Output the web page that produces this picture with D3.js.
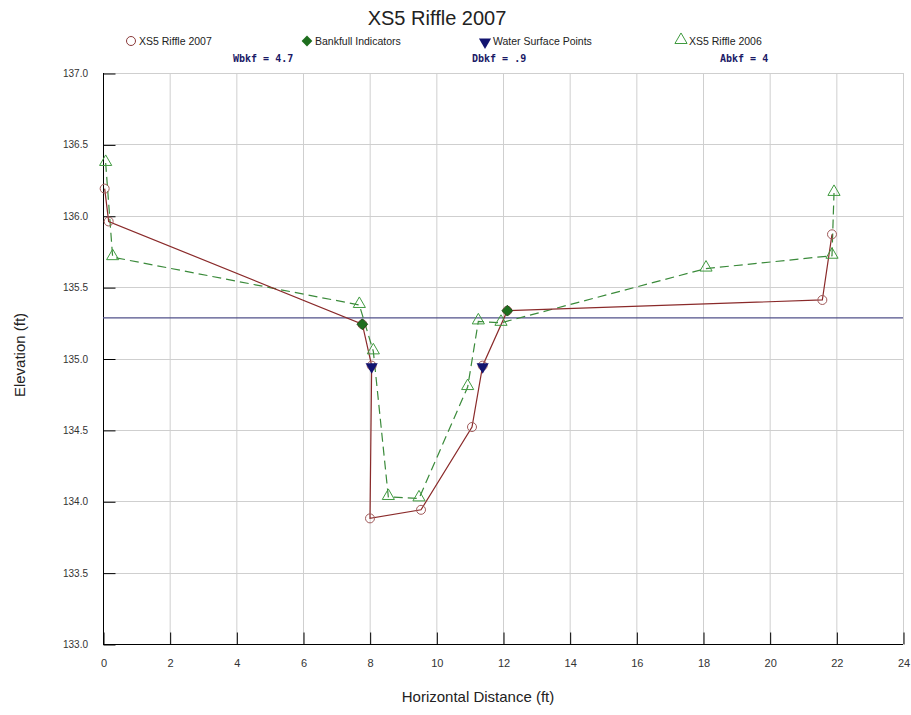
<!DOCTYPE html>
<html><head><meta charset="utf-8">
<script src="https://cdn.jsdelivr.net/npm/d3@7"></script>
<style>body{margin:0;background:#fff}svg{display:block}</style>
</head><body>
<script>
// ---- data ----
const dist2007 = [0.05, 0.17, 7.78, 8.06, 8.01, 9.54, 11.07, 11.39, 12.13, 21.58, 21.87];
const elev2007 = [136.19, 135.96, 135.24, 134.95, 133.88, 133.94, 134.52, 134.95, 135.335, 135.41, 135.87];
const dist2006 = [0.08, 0.29, 7.69, 8.11, 8.56, 9.48, 10.94, 11.26, 11.94, 18.09, 21.87, 21.93];
const elev2006 = [136.37, 135.71, 135.375, 135.05, 134.03, 134.02, 134.80, 135.26, 135.25, 135.63, 135.72, 136.16];
const bankfullDist = [7.78, 12.13];
const bankfullElev = [135.24, 135.335];
const wsDist = [8.06, 11.39];
const wsElev = [134.95, 134.95];
const bankfullLevel = 135.284;
const xTicks = [0, 2, 4, 6, 8, 10, 12, 14, 16, 18, 20, 22, 24];
const yTicks = [133.0, 133.5, 134.0, 134.5, 135.0, 135.5, 136.0, 136.5, 137.0];
const legendLabels = ["XS5 Riffle 2007", "Bankfull Indicators", "Water Surface Points", "XS5 Riffle 2006"];
const statLabels = ["Wbkf = 4.7", "Dbkf = .9", "Abkf = 4"];

const W = 911, H = 715;
const svg = d3.select("body").append("svg").attr("width", W).attr("height", H);
const x = d3.scaleLinear().domain([0, 24]).range([103, 903]);
const y = d3.scaleLinear().domain([133, 137]).range([644, 73]);

// grid
const grid = svg.append("g").attr("stroke", "#cfcfcf").attr("stroke-width", 1);
xTicks.forEach(t => grid.append("line").attr("x1", x(t) + 0.5).attr("x2", x(t) + 0.5).attr("y1", y(137)).attr("y2", y(133)));
yTicks.forEach(t => grid.append("line").attr("x1", x(0)).attr("x2", x(24)).attr("y1", Math.round(y(t)) + 0.5).attr("y2", Math.round(y(t)) + 0.5));

// axes
const yAxis = d3.axisRight(y).tickValues(yTicks).tickSize(12).tickFormat("");
const gy = svg.append("g").attr("transform", `translate(${x(0) + 0.5},0)`).call(yAxis);
gy.selectAll("line").attr("stroke", "#000").attr("transform", "translate(0,0.5)");
gy.select(".domain").attr("stroke", "#000").attr("d", `M0,${y(137)}V${y(133)}`);
const xAxis = d3.axisTop(x).tickValues(xTicks).tickSize(12).tickFormat("");
const gx = svg.append("g").attr("transform", `translate(0,${Math.round(y(133)) + 0.5})`).call(xAxis);
gx.selectAll("line").attr("stroke", "#000").attr("transform", "translate(0.5,0)");
gx.select(".domain").attr("stroke", "#000").attr("d", `M${x(0)},0H${x(24)}`);

// tick labels
svg.append("g").selectAll("text").data(yTicks).join("text")
  .attr("x", 88).attr("y", d => y(d) + 4).attr("text-anchor", "end")
  .attr("font-family", "Liberation Sans, Arial, sans-serif").attr("font-size", 10).attr("fill", "#333")
  .text(d => d.toFixed(1));
svg.append("g").selectAll("text").data(xTicks).join("text")
  .attr("x", d => x(d) + 1).attr("y", 667).attr("text-anchor", "middle")
  .attr("font-family", "Liberation Sans Narrow, Arial Narrow, sans-serif").attr("font-size", 11).attr("fill", "#333")
  .text(d => d);

// bankfull level line
svg.append("line").attr("x1", x(0)).attr("x2", x(24)).attr("y1", y(bankfullLevel)).attr("y2", y(bankfullLevel))
  .attr("stroke", "#50508a").attr("stroke-width", 1.2);

const pts2007 = dist2007.map((d, i) => [d, elev2007[i]]);
const pts2006 = dist2006.map((d, i) => [d, elev2006[i]]);
const line = d3.line().x(d => x(d[0])).y(d => y(d[1]));

svg.append("path").attr("d", line(pts2006)).attr("fill", "none").attr("stroke", "#3a8a3a")
  .attr("stroke-width", 1.2).attr("stroke-dasharray", "9,5");
svg.append("path").attr("d", line(pts2007)).attr("fill", "none").attr("stroke", "#8a2a2a").attr("stroke-width", 1.2);

const tri = d3.symbol().type(d3.symbolTriangle).size(64);
svg.append("g").selectAll("path").data(pts2006).join("path")
  .attr("d", tri).attr("transform", d => `translate(${x(d[0])},${y(d[1]) - 1})`)
  .attr("fill", "none").attr("stroke", "#3f9a3f").attr("stroke-width", 1);
svg.append("g").selectAll("circle").data(pts2007).join("circle")
  .attr("cx", d => x(d[0])).attr("cy", d => y(d[1])).attr("r", 4.5)
  .attr("fill", "none").attr("stroke", "#a05a5a").attr("stroke-width", 1);

const diamond = d3.symbol().type(d3.symbolSquare).size(58);
svg.append("g").selectAll("path").data(bankfullDist.map((d, i) => [d, bankfullElev[i]])).join("path")
  .attr("d", diamond).attr("transform", d => `translate(${x(d[0])},${y(d[1])}) rotate(45)`)
  .attr("fill", "#1e6e1e").attr("stroke", "#145014").attr("stroke-width", 0.8);
svg.append("g").selectAll("path").data(wsDist.map((d, i) => [d, wsElev[i]])).join("path")
  .attr("d", tri).attr("transform", d => `translate(${x(d[0])},${y(d[1]) + 1}) rotate(180)`)
  .attr("fill", "#121470");

// title
svg.append("text").attr("x", 437).attr("y", 25).attr("text-anchor", "middle")
  .attr("font-family", "Liberation Sans, Arial, sans-serif").attr("font-size", 20).attr("fill", "#222")
  .text("XS5 Riffle 2007");

// legend
const legX = [131, 307, 485, 681];
const lg = svg.append("g");
lg.append("circle").attr("cx", legX[0]).attr("cy", 41).attr("r", 4.5).attr("fill", "none").attr("stroke", "#8a3a3a");
lg.append("path").attr("d", diamond).attr("transform", `translate(${legX[1]},41) rotate(45)`).attr("fill", "#1e6e1e");
lg.append("path").attr("d", tri).attr("transform", `translate(${legX[2]},42) rotate(180)`).attr("fill", "#121470");
lg.append("path").attr("d", tri).attr("transform", `translate(${legX[3]},40)`).attr("fill", "none").attr("stroke", "#3f9a3f");
lg.selectAll("text").data(legendLabels).join("text")
  .attr("x", (d, i) => legX[i] + 8).attr("y", 45)
  .attr("font-family", "Liberation Sans, Arial, sans-serif").attr("font-size", 10.5).attr("fill", "#222")
  .text(d => d);

// stats
const statX = [233, 472, 720];
svg.append("g").selectAll("text").data(statLabels).join("text")
  .attr("x", (d, i) => statX[i]).attr("y", 62)
  .attr("font-family", "DejaVu Sans Mono, monospace").attr("font-weight", "bold").attr("font-size", 10)
  .attr("fill", "#1a1a66").style("white-space", "pre")
  .text(d => d);

// axis titles
svg.append("text").attr("x", 478).attr("y", 702).attr("text-anchor", "middle")
  .attr("font-family", "Liberation Sans, Arial, sans-serif").attr("font-size", 15).attr("fill", "#222")
  .text("Horizontal Distance (ft)");
svg.append("text").attr("transform", "translate(25,355) rotate(-90)").attr("text-anchor", "middle")
  .attr("font-family", "Liberation Sans, Arial, sans-serif").attr("font-size", 15).attr("fill", "#222")
  .text("Elevation (ft)");
</script>
</body></html>
